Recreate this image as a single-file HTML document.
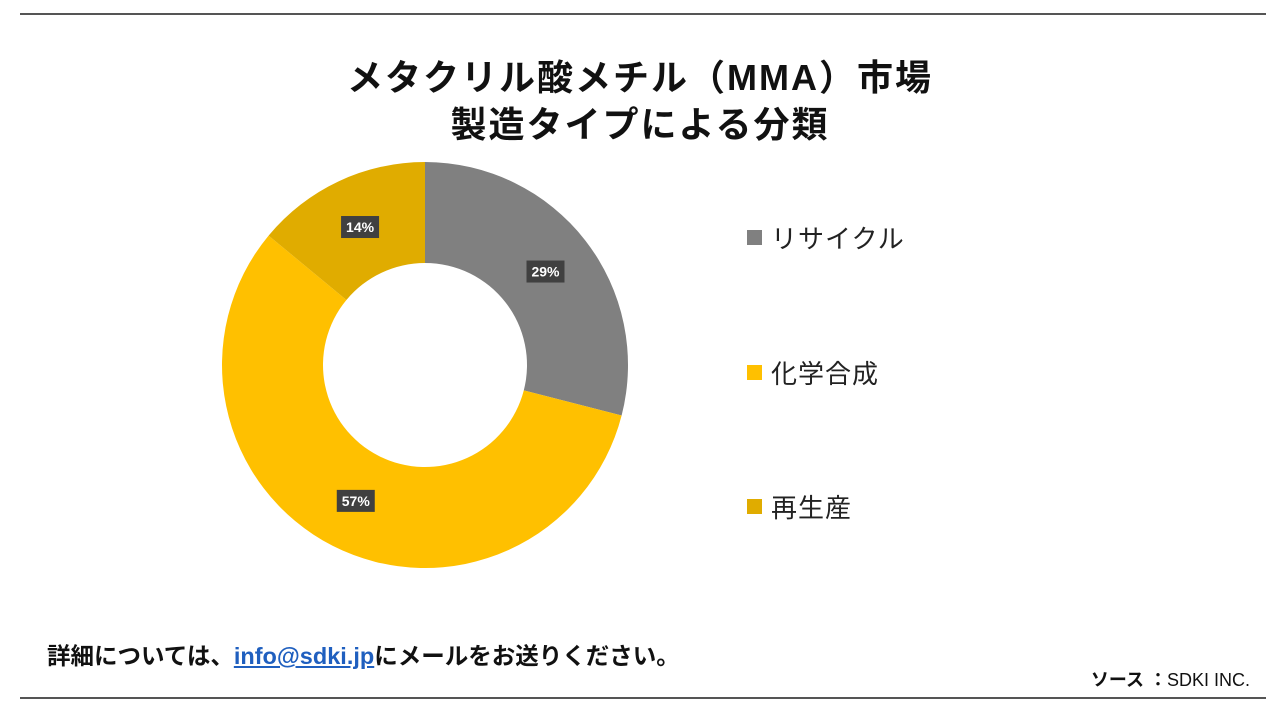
<!DOCTYPE html>
<html><head><meta charset="utf-8">
<style>
body{margin:0;width:1280px;height:720px;background:#fff;font-family:"Liberation Sans","Noto Sans CJK JP",sans-serif;overflow:hidden;position:relative}
.hr{position:absolute;left:20px;width:1246px;height:2px;background:#555}
.title{position:absolute;left:0;width:1280px;text-align:center;font-weight:bold;font-size:36px;letter-spacing:2px;color:#111;line-height:47px}
.leg{position:absolute;left:747px;font-size:26px;color:#222;display:flex;align-items:center;letter-spacing:1px}
.leg span.sw{width:15px;height:15px;margin-right:9px;display:inline-block}
</style></head><body>
<div class="hr" style="top:13px"></div>
<div class="hr" style="top:697px"></div>
<div class="title" style="top:54px">メタクリル酸メチル（MMA）市場<br>製造タイプによる分類</div>
<svg id="chart" width="1280" height="720" style="position:absolute;left:0;top:0"></svg>
<div class="leg" style="top:219px"><span class="sw" style="background:#808080"></span>リサイクル</div>
<div class="leg" style="top:354px"><span class="sw" style="background:#FFC000"></span>化学合成</div>
<div class="leg" style="top:488px"><span class="sw" style="background:#E0AC00"></span>再生産</div>
<div style="position:absolute;left:47px;top:637px;font-size:23.5px;letter-spacing:0px;font-weight:bold;color:#111">詳細については、<a style="color:#1F5FBF;text-decoration:underline">info@sdki.jp</a>にメールをお送りください。</div>
<div style="position:absolute;right:30px;top:666px;font-size:18px;color:#111"><b>ソース ：</b>SDKI INC.</div>
<script>
const categories=["リサイクル","化学合成","再生産"];
const values=[29,57,14];
const labels=["29%","57%","14%"];
const colors=["#808080","#FFC000","#E0AC00"];
const svg=document.getElementById('chart');
const NS="http://www.w3.org/2000/svg";
const cx=425,cy=365,R=203,r=102;
const total=values.reduce((a,b)=>a+b,0);
let a0=0;
function pt(a,rad){return [cx+rad*Math.sin(a),cy-rad*Math.cos(a)];}
values.forEach((v,i)=>{
  const a1=a0+v/total*2*Math.PI;
  const large=(a1-a0)>Math.PI?1:0;
  const [x0,y0]=pt(a0,R),[x1,y1]=pt(a1,R),[x2,y2]=pt(a1,r),[x3,y3]=pt(a0,r);
  const p=document.createElementNS(NS,'path');
  p.setAttribute('d',`M${x0},${y0}A${R},${R} 0 ${large} 1 ${x1},${y1}L${x2},${y2}A${r},${r} 0 ${large} 0 ${x3},${y3}Z`);
  p.setAttribute('fill',colors[i]);
  
  
  svg.appendChild(p);
  const am=(a0+a1)/2;const [lx,ly]=pt(am,(R+r)/2);
  const g=document.createElementNS(NS,'g');
  
  
  const rect=document.createElementNS(NS,'rect');
  rect.setAttribute('x',lx-19);rect.setAttribute('y',ly-11);rect.setAttribute('width',38);rect.setAttribute('height',22);
  rect.setAttribute('fill','#404040');
  const t=document.createElementNS(NS,'text');
  t.setAttribute('x',lx);t.setAttribute('y',ly+5);t.setAttribute('text-anchor','middle');
  t.setAttribute('fill','#fff');t.setAttribute('font-size','14');t.setAttribute('font-weight','bold');
  t.setAttribute('font-family','Liberation Sans, sans-serif');
  t.textContent=labels[i];
  g.appendChild(rect);g.appendChild(t);svg.appendChild(g);
  a0=a1;
});
</script>
</body></html>
